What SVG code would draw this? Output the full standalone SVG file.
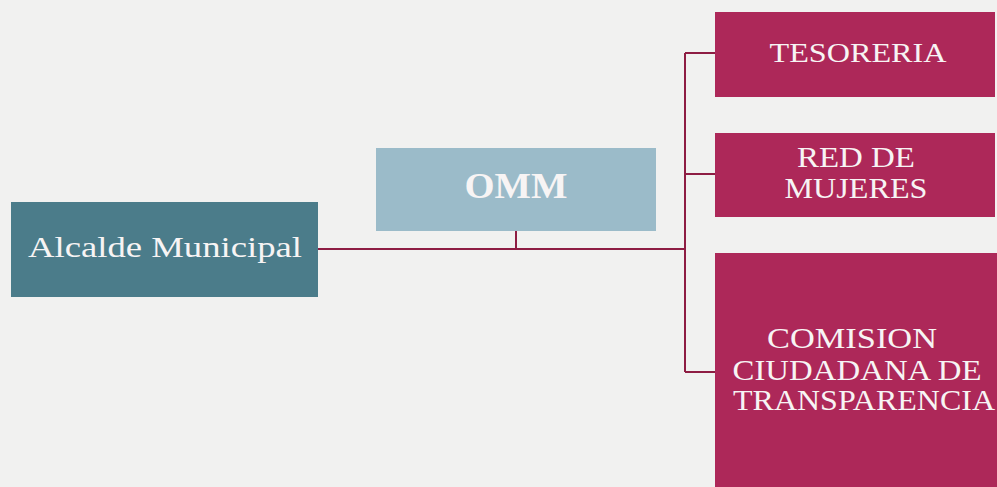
<svg xmlns="http://www.w3.org/2000/svg" width="997" height="487" viewBox="0 0 997 487">
<style>
.t{font-family:"Liberation Serif","Times New Roman",serif;fill:#f7f4f4;text-anchor:middle}
.c{stroke:#8e1d43;stroke-width:2;fill:none}
.r{fill:#ad2859}
</style>
<rect width="997" height="487" fill="#f1f1f0"/>
<g id="connectors">
<path class="c" d="M318 249H685M516 231V249M685 53V372M685 53H715M685 174H715M685 372H715"/>
</g>
<g id="alcalde">
<rect x="11" y="202" width="307" height="95" fill="#4b7c8a"/>
<text class="t" x="165" y="257" font-size="30" textLength="274" lengthAdjust="spacingAndGlyphs">Alcalde Municipal</text>
</g>
<g id="omm">
<rect x="376" y="148" width="280" height="83" fill="#9bbbc9"/>
<text class="t" x="516" y="198" font-size="36" font-weight="bold" textLength="103" lengthAdjust="spacingAndGlyphs">OMM</text>
</g>
<g id="tesoreria">
<rect class="r" x="715" y="12" width="280" height="85"/>
<text class="t" x="858" y="62" font-size="28" textLength="177" lengthAdjust="spacingAndGlyphs">TESORERIA</text>
</g>
<g id="red">
<rect class="r" x="715" y="133" width="280" height="84"/>
<text class="t" x="856" y="167" font-size="29" textLength="118" lengthAdjust="spacingAndGlyphs">RED DE</text>
<text class="t" x="856" y="198" font-size="29" textLength="143" lengthAdjust="spacingAndGlyphs">MUJERES</text>
</g>
<g id="comision">
<rect class="r" x="715" y="253" width="282" height="234"/>
<text class="t" x="852" y="348" font-size="29" textLength="170" lengthAdjust="spacingAndGlyphs">COMISION</text>
<text class="t" x="857" y="380" font-size="29" textLength="249" lengthAdjust="spacingAndGlyphs">CIUDADANA DE</text>
<text class="t" x="864" y="410" font-size="29" textLength="262" lengthAdjust="spacingAndGlyphs">TRANSPARENCIA</text>
</g>
</svg>
